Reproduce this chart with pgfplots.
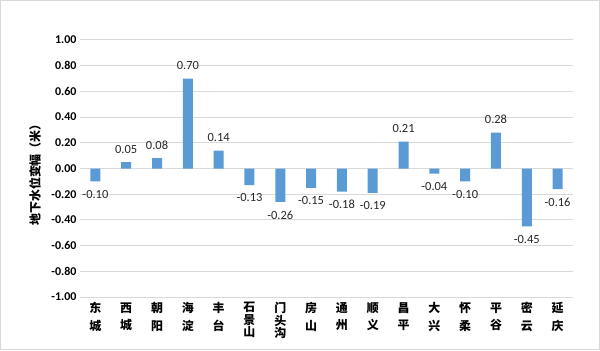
\documentclass[border=0pt]{standalone}
\usepackage{pgfplots}
\pgfplotsset{compat=1.18}
\usepackage{fontspec}
\setmainfont{Carlito}
\newfontfamily\cjk{Noto Sans CJK SC}
\definecolor{barblue}{HTML}{5B9BD5}
\definecolor{gridgray}{HTML}{D9D9D9}
\begin{document}
\begin{tikzpicture}[x=1bp,y=1bp]
\draw[draw=gridgray, line width=1bp] (0.5,0.5) rectangle (599.5,349.5);
\node[rotate=90, font=\cjk\bfseries\fontsize{12}{14}\selectfont] at (35,178) {地下水位变幅（米）};
\begin{axis}[
  at={(80bp,53bp)}, anchor=south west, scale only axis,
  width=493bp, height=257bp,
  ymin=-1, ymax=1,
  ytick={-1,-0.8,-0.6,-0.4,-0.2,0,0.2,0.4,0.6,0.8,1},
  xmin=-0.5, xmax=15.5,
  xtick={0,1,2,3,4,5,6,7,8,9,10,11,12,13,14,15},
  xticklabels={
    {东\\[5bp]城},{西\\[5bp]城},{朝\\[5bp]阳},{海\\[5bp]淀},{丰\\[5bp]台},
    {石\\景\\山},{门\\头\\沟},
    {房\\[5bp]山},{通\\[5bp]州},{顺\\[5bp]义},{昌\\[5bp]平},{大\\[5bp]兴},
    {怀\\[5bp]柔},{平\\[5bp]谷},{密\\[5bp]云},{延\\[5bp]庆}},
  xticklabel style={font=\cjk\bfseries\fontsize{12}{12.5}\selectfont, align=center, anchor=north, yshift=-2bp},
  yticklabel style={font=\bfseries\fontsize{12}{14}\selectfont,
    /pgf/number format/.cd, fixed, fixed zerofill, precision=2, assume math mode=true},
  ymajorgrids, grid style={gridgray, line width=1bp},
  axis line style={draw=none},
  major tick length=0,
  ybar, bar width=10bp,
  nodes near coords,
  nodes near coords style={font=\fontsize{12.5}{14}\selectfont, inner ysep=8.5bp, text=black!85,
    /pgf/number format/.cd, fixed, fixed zerofill, precision=2, assume math mode=true},
  clip=false,
]
\addplot[fill=barblue, draw=none] coordinates {
(0,-0.10) (1,0.05) (2,0.08) (3,0.70) (4,0.14) (5,-0.13) (6,-0.26) (7,-0.15)
(8,-0.18) (9,-0.19) (10,0.21) (11,-0.04) (12,-0.10) (13,0.28) (14,-0.45) (15,-0.16)};
\end{axis}
\end{tikzpicture}
\end{document}
